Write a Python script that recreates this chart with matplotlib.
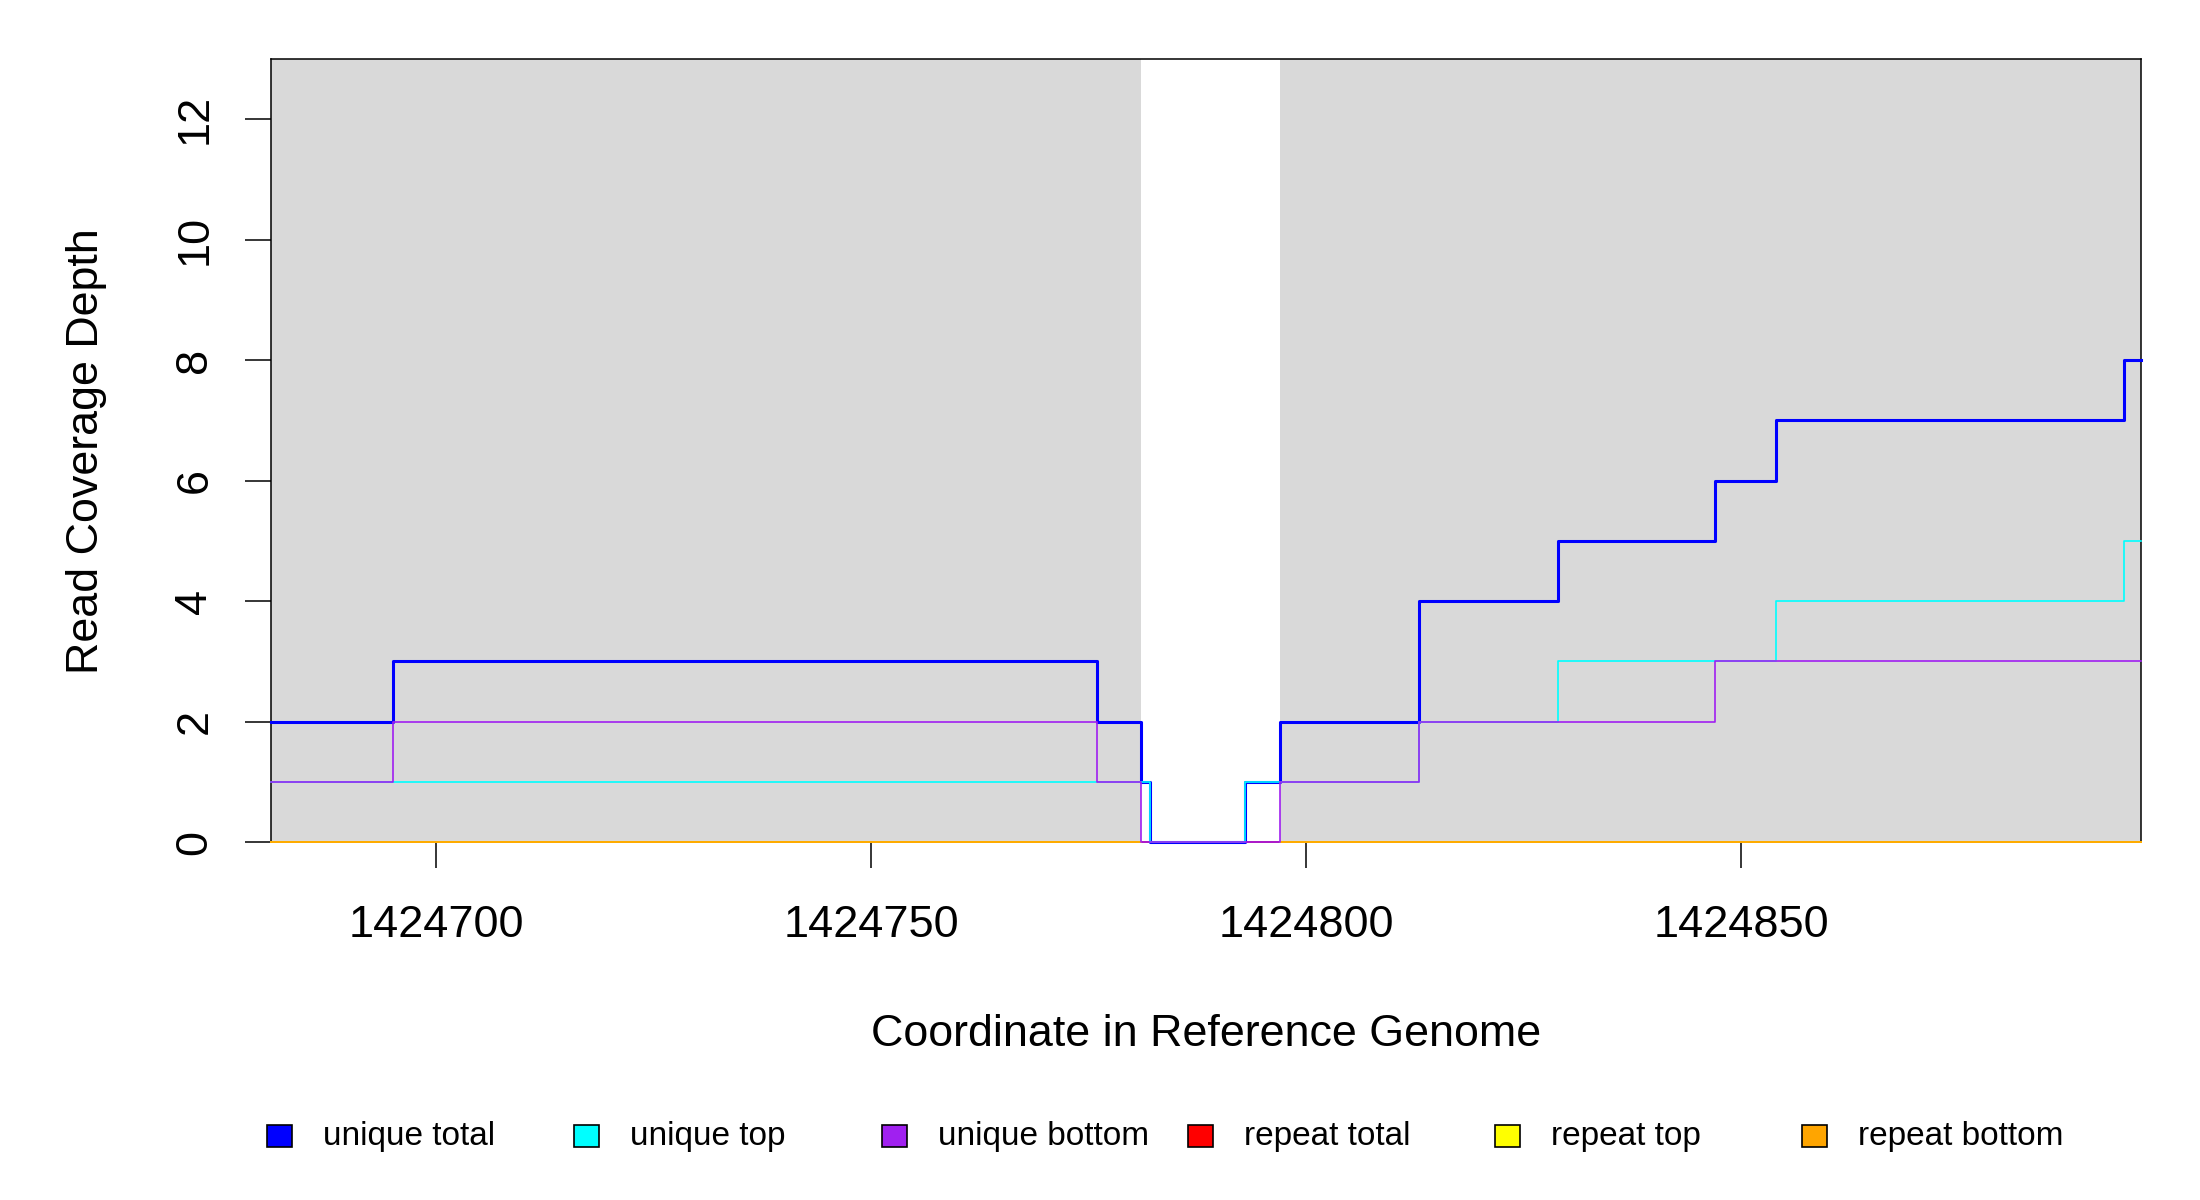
import matplotlib
matplotlib.use("Agg")
import matplotlib.pyplot as plt
import numpy as np
from matplotlib.patches import Rectangle

plt.rcParams["font.family"] = ["Liberation Sans", "DejaVu Sans"]

# ---- data ----
x_start, x_end = 1424681, 1424896
covered_spans = [(1424681, 1424781), (1424797, 1424896)]

unique_total_pos = [1424681, 1424695, 1424776, 1424781, 1424782, 1424793, 1424797,
                    1424813, 1424829, 1424847, 1424854, 1424894, 1424896]
unique_total_val = [2, 3, 2, 1, 0, 1, 2, 4, 5, 6, 7, 8, 8]

unique_top_pos = [1424681, 1424782, 1424793, 1424813, 1424829, 1424854, 1424894, 1424896]
unique_top_val = [1, 0, 1, 2, 3, 4, 5, 5]

unique_bottom_pos = [1424681, 1424695, 1424776, 1424781, 1424797, 1424813, 1424847, 1424896]
unique_bottom_val = [1, 2, 1, 0, 1, 2, 3, 3]

# repeat coverage is zero everywhere; top/bottom missing inside the gap
repeat_total_pos = [1424681, 1424896]
repeat_total_val = [0, 0]
repeat_strand_pos = [1424681, 1424781, 1424797, 1424896]
repeat_strand_val = [0, np.nan, 0, 0]

legend_labels = ["unique total", "unique top", "unique bottom",
                 "repeat total", "repeat top", "repeat bottom"]
legend_colors = ["#0000FF", "#00FFFF", "#A020F0", "#FF0000", "#FFFF00", "#FFA500"]

y_ticks = [0, 2, 4, 6, 8, 10, 12]
x_ticks = [1424700, 1424750, 1424800, 1424850]

fig = plt.figure(figsize=(22, 12), dpi=100)
ax = fig.add_axes([0.1232, 0.2983, 0.8500, 0.6525])

for lo, hi in covered_spans:
    ax.axvspan(lo, hi, color="#D9D9D9", lw=0, zorder=0)

# repeats first, uniques on top; all drawn over the frame like R does
ax.step(repeat_total_pos, repeat_total_val, where="post", color="#FF0000", lw=1.3, clip_on=False, zorder=5)
ax.step(repeat_strand_pos, repeat_strand_val, where="post", color="#FFFF00", lw=1.3, clip_on=False, zorder=5)
ax.step(repeat_strand_pos, repeat_strand_val, where="post", color="#FFA500", lw=1.3, clip_on=False, zorder=5)
ax.step(unique_total_pos, unique_total_val, where="post", color="#0000FF", lw=2.2, clip_on=False, zorder=6)
ax.step(unique_top_pos, unique_top_val, where="post", color="#00FFFF", lw=1.2, clip_on=False, zorder=6)
ax.step(unique_bottom_pos, unique_bottom_val, where="post", color="#A020F0", lw=1.2, clip_on=False, zorder=6)

ax.set_xlim(x_start, x_end)
ax.set_ylim(0, 13)
ax.set_xticks(x_ticks)
ax.set_xticklabels([str(v) for v in x_ticks])
ax.set_yticks(y_ticks)
ax.set_yticklabels([str(v) for v in y_ticks], rotation=90, va="center")
ax.tick_params(axis="both", length=19, width=1.1, labelsize=32.5, direction="out")
ax.tick_params(axis="x", pad=26)
ax.tick_params(axis="y", pad=21)
for s in ax.spines.values():
    s.set_linewidth(1.1)
    s.set_zorder(4)

fig.text(1206 / 2200, 1 - 1034 / 1200, "Coordinate in Reference Genome", ha="center", va="center", fontsize=32.3)
fig.text(87 / 2200, 1 - 451 / 1200, "Read Coverage Depth", ha="center", va="center",
         rotation=90, fontsize=32.3)

# legend row along the bottom
box_x = [279, 586, 894, 1200, 1507, 1814]
for bx, lab, col in zip(box_x, legend_labels, legend_colors):
    fig.add_artist(Rectangle(((bx - 12) / 2200, 1 - 1147 / 1200), 25 / 2200, 22 / 1200,
                             transform=fig.transFigure, facecolor=col, edgecolor="black", lw=1.2))
    fig.text((bx + 44) / 2200, 1 - 1136 / 1200, lab, ha="left", va="center", fontsize=24)

fig.savefig("out.png", dpi=100, facecolor="white")
